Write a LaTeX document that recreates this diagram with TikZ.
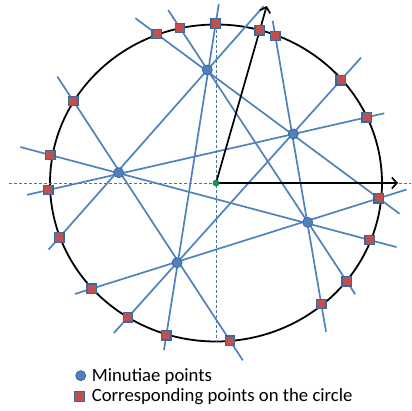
\documentclass[tikz,border=0pt]{standalone}
\usepackage{fontspec}
\setmainfont{Carlito}
\usetikzlibrary{calc,arrows.meta}
\definecolor{rayblue}{HTML}{4F81BD}
\definecolor{dotedge}{HTML}{3A679C}
\definecolor{sqfill}{HTML}{C0504D}
\definecolor{cgreen}{HTML}{00A651}
\definecolor{cgreenedge}{HTML}{1F6F4A}
\begin{document}
\begin{tikzpicture}[x=1pt,y=-1pt,
  ray/.style={draw=rayblue, line width=1.7pt},
  guide/.style={draw=rayblue!90!black, line width=0.8pt, dash pattern=on 3pt off 2pt},
  axisarrow/.style={draw=black, line width=1.7pt, -{Straight Barb[length=5pt,width=11pt]}},
  minutia/.style={circle, fill=rayblue, draw=dotedge, line width=0.8pt, minimum size=10pt, inner sep=0pt},
  cpoint/.style={rectangle, fill=sqfill, draw=dotedge, line width=1.3pt, minimum size=9.5pt, inner sep=0pt},
  centre/.style={circle, fill=cgreen, draw=cgreenedge, line width=0.6pt, minimum size=6pt, inner sep=0pt},
  legendtext/.style={font=\fontsize{18.7}{20}\selectfont, anchor=base west, inner sep=0pt}
]
\useasboundingbox (0,0) rectangle (412,410);
% minutiae and centre positions
\coordinate (O) at (216,183);
\coordinate (M1) at (207.3,70);
\coordinate (M2) at (118.7,172.7);
\coordinate (M3) at (293.3,134);
\coordinate (M4) at (307.7,222.3);
\coordinate (M5) at (177,262.7);
% corresponding points on the circle
\coordinate (sa) at (156.7,34);
\coordinate (sb) at (180,28);
\coordinate (sc) at (215.7,23.5);
\coordinate (se) at (275.3,36);
\coordinate (sf) at (340.7,80.3);
\coordinate (sg) at (366.7,117.3);
\coordinate (sh) at (378.7,198.3);
\coordinate (si) at (369.7,240);
\coordinate (sj) at (346.7,281.3);
\coordinate (sk) at (321.3,304);
\coordinate (sl) at (230,340.7);
\coordinate (sm) at (166.3,335.3);
\coordinate (sn) at (128,317.3);
\coordinate (so) at (91.7,288.7);
\coordinate (sp) at (59.3,237.5);
\coordinate (sq) at (48.3,190);
\coordinate (sr) at (50.3,155);
\coordinate (ss) at (73.3,101);
% arrow ends
\coordinate (T1) at (266.7,6);
\coordinate (T2) at (398,183);
\coordinate (sd) at ($(O)!(259,30)!(T1)$);
% guide ends
\coordinate (H1) at (9,183);
\coordinate (H2) at (411,183);
\coordinate (V1) at (216,24.5);
\coordinate (V2) at (216,341.5);
% line ends
\coordinate (L1a) at ($(sp)!(264.5,7)!(M1)$);
\coordinate (L1b) at ($(sp)!(48.3,249.3)!(M1)$);
\coordinate (L2a) at ($(sa)!(137,16)!(sh)$);
\coordinate (L2b) at ($(sa)!(400,213.3)!(sh)$);
\coordinate (L3a) at ($(sb)!(168.3,10)!(sj)$);
\coordinate (L3b) at ($(sb)!(355.3,294.3)!(sj)$);
\coordinate (L4a) at ($(sc)!(219,4)!(sm)$);
\coordinate (L4b) at ($(sc)!(163.3,350)!(sm)$);
\coordinate (L5a) at ($(sq)!(26.7,193.3)!(sg)$);
\coordinate (L5b) at ($(sq)!(384,111.7)!(sg)$);
\coordinate (L6a) at ($(sr)!(20.7,145.7)!(si)$);
\coordinate (L6b) at ($(sr)!(396.7,246.7)!(si)$);
\coordinate (L7a) at ($(ss)!(56.7,77)!(sl)$);
\coordinate (L7b) at ($(ss)!(242,361)!(sl)$);
\coordinate (L8a) at ($(se)!(273.3,20.7)!(sk)$);
\coordinate (L8b) at ($(se)!(326,331.7)!(sk)$);
\coordinate (L9a) at ($(sf)!(360.7,57.3)!(M5)$);
\coordinate (L9b) at ($(sf)!(115,334)!(M5)$);
\coordinate (L10a) at ($(sh)!(406,188)!(so)$);
\coordinate (L10b) at ($(sh)!(75,294.3)!(so)$);

% circle
\draw[line width=1.8pt] (O) ellipse [x radius=166pt, y radius=158.5pt];
% guides
\draw[guide] (H1) -- (H2);
\draw[guide] (V1) -- (V2);
% lines through pairs of minutiae
\foreach \n in {1,...,10} {\draw[ray] (L\n a) -- (L\n b);}
% arrows
\draw[axisarrow] (O) -- (T1);
\draw[axisarrow] (O) -- (T2);
% squares
\foreach \s in {sa,sb,sc,sd,se,sf,sg,sh,si,sj,sk,sl,sm,sn,so,sp,sq,sr,ss}
  {\node[cpoint] (n\s) at (\s) {};}
% minutiae
\foreach \m in {M1,M2,M3,M4,M5} {\node[minutia] (n\m) at (\m) {};}
\node[centre] (nO) at (O) {};
% legend
\node[minutia] (lgdot) at (80.7,375.7) {};
\node[legendtext] (lgt1) at (91.7,381.7) {Minutiae points};
\node[cpoint] (lgsq) at (79.5,396.5) {};
\node[legendtext] (lgt2) at (91.7,401.7) {Corresponding points on the circle};
\end{tikzpicture}
\end{document}
